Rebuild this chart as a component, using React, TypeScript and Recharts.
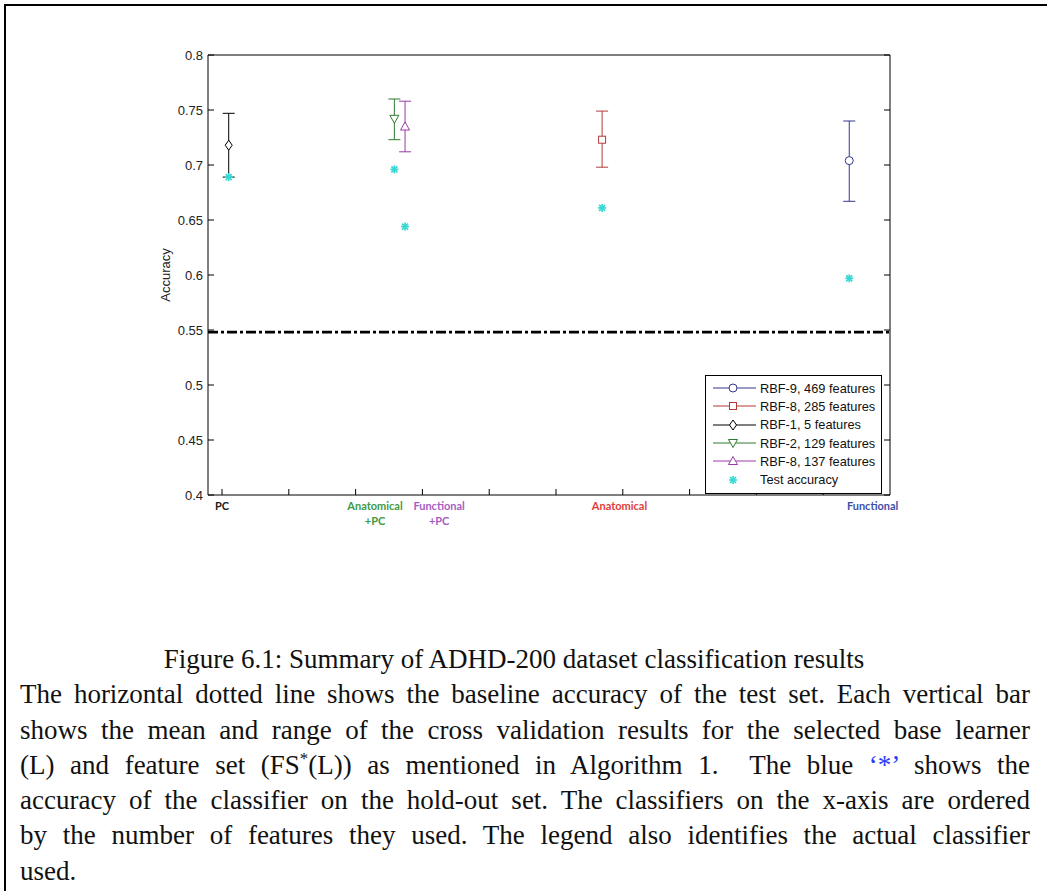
import React from 'react';
import { ComposedChart, Scatter, XAxis, YAxis, ErrorBar, ReferenceLine, ReferenceDot, Legend, Label } from 'recharts';

// cross validation results per selected base learner (legend order)
const seriesNames = ['RBF-9, 469 features', 'RBF-8, 285 features', 'RBF-1, 5 features', 'RBF-2, 129 features', 'RBF-8, 137 features'];
const seriesX = [10.39, 6.69, 1.1, 3.58, 3.74];
const cvMean = [0.704, 0.723, 0.718, 0.742, 0.735];
const cvMin = [0.667, 0.698, 0.689, 0.723, 0.712];
const cvMax = [0.74, 0.749, 0.747, 0.76, 0.758];
const testAcc = [0.597, 0.661, 0.689, 0.696, 0.644];
const baseline = 0.548;

// classifiers on the x-axis
const categoryX = [1, 3.29, 4.25, 6.95, 10.74];
const categoryLines = [['PC'], ['Anatomical', '+PC'], ['Functional', '+PC'], ['Anatomical'], ['Functional']];

const xDomain = [0.79, 11];
const yDomain = [0.4, 0.8];
const xTicks = [1, 2, 3, 4, 5, 6, 7, 8, 9, 10];
const yTicks = [0.4, 0.45, 0.5, 0.55, 0.6, 0.65, 0.7, 0.75, 0.8];

const captionTitle = 'Figure 6.1: Summary of ADHD-200 dataset classification results';

const seriesColors = ['#35358f', '#b23a3a', '#000000', '#2f7a32', '#9a3aa6'];
const seriesMarkers = ['circle', 'square', 'diamond', 'triangleDown', 'triangleUp'];
const testColor = '#38d8d2';
const categoryColors = ['#1a1a1a', '#3d9a45', '#a65cc4', '#e03c3c', '#3f4fa6'];

const axisFont = '"Liberation Sans", Arial, sans-serif';

const Marker = ({ cx, cy, kind, color }: { cx: number; cy: number; kind: string; color: string }) => {
  switch (kind) {
    case 'circle':
      return <circle cx={cx} cy={cy} r={4} fill="#fff" stroke={color} strokeWidth={1} />;
    case 'square':
      return <rect x={cx - 3.5} y={cy - 3.5} width={7} height={7} fill="#fff" stroke={color} strokeWidth={1} />;
    case 'diamond':
      return <polygon points={`${cx},${cy - 5} ${cx + 3.5},${cy} ${cx},${cy + 5} ${cx - 3.5},${cy}`} fill="#fff" stroke={color} strokeWidth={1} />;
    case 'triangleDown':
      return <polygon points={`${cx - 4.5},${cy - 3.5} ${cx + 4.5},${cy - 3.5} ${cx},${cy + 4.5}`} fill="#fff" stroke={color} strokeWidth={1} />;
    case 'triangleUp':
      return <polygon points={`${cx - 4.5},${cy + 3.5} ${cx + 4.5},${cy + 3.5} ${cx},${cy - 4.5}`} fill="#fff" stroke={color} strokeWidth={1} />;
    default:
      return (
        <g stroke={color} strokeWidth={1.7}>
          <line x1={cx - 4} y1={cy} x2={cx + 4} y2={cy} />
          <line x1={cx} y1={cy - 4} x2={cx} y2={cy + 4} />
          <line x1={cx - 3} y1={cy - 3} x2={cx + 3} y2={cy + 3} />
          <line x1={cx - 3} y1={cy + 3} x2={cx + 3} y2={cy - 3} />
        </g>
      );
  }
};

// classifier name drawn below the x-axis at its data position
const categoryLabel = (i: number) => (props: any) => {
  const vb = props.viewBox || {};
  const x = (vb.x ?? 0) + (vb.width ?? 0) / 2;
  const y = (vb.y ?? 0) + (vb.height ?? 0) / 2;
  return (
    <text x={x} y={y} textAnchor="middle" fill={categoryColors[i]} fontFamily="Lato, sans-serif" fontWeight="bold" fontSize={11}>
      {categoryLines[i].map((line, k) => (
        <tspan key={k} x={x} dy={k === 0 ? 15 : 15}>{line}</tspan>
      ))}
    </text>
  );
};

const LegendBox = () => (
  <div style={{ width: 177, height: 119, border: '1px solid #000', background: '#fff', fontFamily: axisFont, fontSize: 12.8, color: '#111', paddingTop: 3, boxSizing: 'border-box' }}>
    {seriesNames.map((name, i) => (
      <div key={name} style={{ display: 'flex', alignItems: 'center', height: 18.3 }}>
        <svg width={54} height={14} style={{ flex: 'none' }}>
          <line x1={7} y1={7} x2={50} y2={7} stroke={seriesColors[i]} strokeWidth={1} />
          <Marker cx={27} cy={7} kind={seriesMarkers[i]} color={seriesColors[i]} />
        </svg>
        <span style={{ whiteSpace: 'nowrap' }}>{name}</span>
      </div>
    ))}
    <div style={{ display: 'flex', alignItems: 'center', height: 18.3 }}>
      <svg width={54} height={14} style={{ flex: 'none' }}>
        <Marker cx={27} cy={7} kind="star" color={testColor} />
      </svg>
      <span>Test accuracy</span>
    </div>
  </div>
);

const justified: React.CSSProperties = { textAlign: 'justify', textAlignLast: 'justify' };

export default function App() {
  return (
    <div style={{ position: 'absolute', left: 0, top: 0, width: 1047, height: 891, background: '#fff', overflow: 'hidden' }}>
      <div style={{ position: 'absolute', left: 4, top: 4, width: 1060, height: 900, borderTop: '2px solid #000', borderLeft: '2px solid #000' }} />
      <div style={{ position: 'absolute', left: 0, top: 0 }}>
        <ComposedChart width={1047} height={560} margin={{ top: 54, right: 156, bottom: 64, left: 148 }}>
          <XAxis xAxisId="main" type="number" dataKey="x" domain={xDomain} ticks={xTicks} interval={0} allowDataOverflow
            height={1} tickSize={-6} tickFormatter={() => ''} stroke="#000" />
          <XAxis xAxisId="top" orientation="top" type="number" domain={xDomain} ticks={xTicks} interval={0} allowDataOverflow
            height={1} tickSize={-6} tickFormatter={() => ''} stroke="#000" />
          <YAxis yAxisId="left" type="number" domain={yDomain} ticks={yTicks} interval={0} allowDataOverflow
            width={60} tickSize={-6} tickMargin={11} stroke="#000"
            tick={{ fill: '#222', fontSize: 13, fontFamily: axisFont }}>
            <Label value="Accuracy" angle={-90} position="insideLeft" offset={17} style={{ fill: '#222', fontSize: 13, fontFamily: axisFont, textAnchor: 'middle' }} />
          </YAxis>
          <YAxis yAxisId="right" orientation="right" type="number" domain={yDomain} ticks={yTicks} interval={0} allowDataOverflow
            width={1} tickSize={-6} tickFormatter={() => ''} stroke="#000" />
          <ReferenceLine xAxisId="main" yAxisId="left" y={baseline} stroke="#000" strokeWidth={2.8} strokeDasharray="10 3 3 3" />
          {seriesNames.map((name, i) => (
            <Scatter
              key={name}
              name={name}
              xAxisId="main"
              yAxisId="left"
              data={[{ x: seriesX[i], y: cvMean[i], err: [cvMean[i] - cvMin[i], cvMax[i] - cvMean[i]] }]}
              dataKey="y"
              isAnimationActive={false}
              shape={(p: any) => <Marker cx={p.cx} cy={p.cy} kind={seriesMarkers[i]} color={seriesColors[i]} />}
            >
              <ErrorBar dataKey="err" direction="y" width={6} stroke={seriesColors[i]} strokeWidth={1} isAnimationActive={false} />
            </Scatter>
          ))}
          <Scatter
            name="Test accuracy"
            xAxisId="main"
            yAxisId="left"
            data={seriesX.map((x, i) => ({ x, y: testAcc[i] }))}
            dataKey="y"
            isAnimationActive={false}
            shape={(p: any) => <Marker cx={p.cx} cy={p.cy} kind="star" color={testColor} />}
          />
          {categoryX.map((cx, i) => (
            <ReferenceDot key={i} xAxisId="main" yAxisId="left" x={cx} y={yDomain[0]} r={0.5} fill="none" stroke="none"
              ifOverflow="visible" label={categoryLabel(i)} />
          ))}
          <Legend layout="vertical" align="center" verticalAlign="middle" content={() => <LegendBox />}
            wrapperStyle={{ left: 705, top: 375, width: 177, height: 119 }} />
        </ComposedChart>
      </div>
      <div style={{ position: 'absolute', left: 20, top: 642, width: 1010, fontFamily: '"Liberation Serif", "Times New Roman", serif', fontSize: 27, lineHeight: '35.3px', color: '#111' }}>
        <div style={{ textAlign: 'center', paddingRight: 22 }}>{captionTitle}</div>
        <div style={justified}>The horizontal dotted line shows the baseline accuracy of the test set. Each vertical bar</div>
        <div style={justified}>shows the mean and range of the cross validation results for the selected base learner</div>
        <div style={justified}>
          (L) and feature set (FS<sup style={{ fontSize: 17, lineHeight: 0 }}>*</sup>(L)) as mentioned in Algorithm 1.&nbsp; The blue <span style={{ color: '#2a3bff' }}>‘*’</span> shows the
        </div>
        <div style={justified}>accuracy of the classifier on the hold-out set. The classifiers on the x-axis are ordered</div>
        <div style={justified}>by the number of features they used. The legend also identifies the actual classifier</div>
        <div>used.</div>
      </div>
    </div>
  );
}
